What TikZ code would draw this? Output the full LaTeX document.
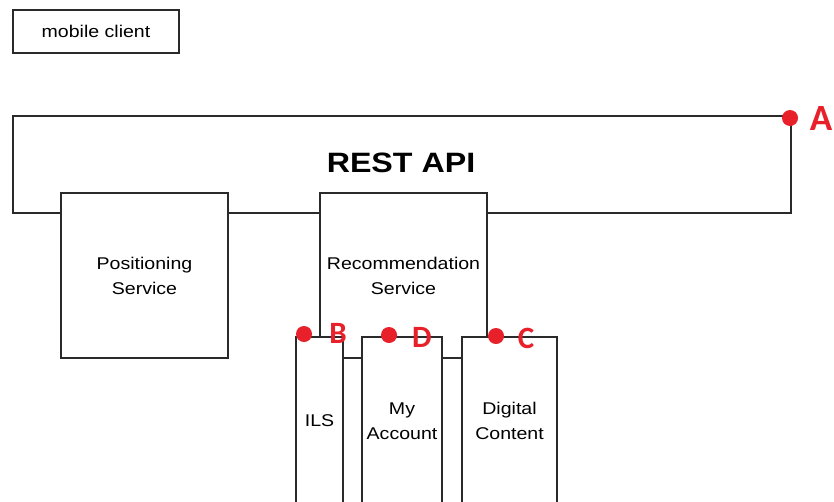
\documentclass[tikz,border=0pt]{standalone}
\usepackage{fontspec}
\setmainfont{Liberation Sans}[FakeStretch=1.15]
\newfontfamily\markfont{Carlito}
\usepackage{tikz}
\definecolor{markred}{HTML}{E8202A}
\definecolor{linegray}{HTML}{2A2A2A}

\begin{document}
\begin{tikzpicture}[x=1pt, y=-1pt,
  unit/.style={rectangle, draw=linegray, line width=1.7pt, fill=white, inner sep=0pt, outer sep=0pt, align=center, font=\fontsize{17}{25}\selectfont},
  wire/.style={linegray, line width=1.7pt},
  reddot/.style={circle, fill=markred, inner sep=0pt, minimum size=16pt},
  marklabel/.style={text=markred, inner sep=0pt, font=\markfont\bfseries\fontsize{31}{31}\selectfont}]

\useasboundingbox[fill=white] (0,0) rectangle (834,501);

%Nodes
\node[unit, minimum width=166pt, minimum height=43pt] (client) at (96,31.5) {mobile client};

\draw[wire] (13,116) rectangle (791,213);
\node[font=\bfseries\fontsize{28}{28}\selectfont] (rest) at (401,163) {REST API};

\node[unit, minimum width=167pt, minimum height=165pt] (pos) at (144.5,275.5) {Positioning\\Service};
\node[unit, draw=none, minimum width=167pt, minimum height=144pt] (rec) at (403.5,265) {};
\node[font=\fontsize{17}{25}\selectfont, align=center] (reclabel) at (403.5,276) {Recommendation\\Service};

\node[unit, minimum width=47pt, minimum height=168pt] (ils) at (319.5,421) {ILS};
\node[unit, minimum width=80pt, minimum height=168pt] (acc) at (402,421) {My\\Account};
\node[unit, minimum width=95pt, minimum height=168pt] (dig) at (509.5,421) {Digital\\Content};

%Lines
\draw[wire] (rec.south west) |- (rec.north east) -- (rec.south east);
\draw[wire] ([yshift=-21pt]ils.north east) -- ([yshift=-21pt]acc.north west);
\draw[wire] ([yshift=-21pt]acc.north east) -- ([yshift=-21pt]dig.north west);

%Marks
\node[reddot] (dotA) at (790,118) {};
\node[marklabel, font=\markfont\bfseries\fontsize{37}{37}\selectfont] (labA) at (821,118) {A};
\node[reddot] (dotB) at (304,334) {};
\node[marklabel] (labB) at (338,333) {B};
\node[reddot] (dotD) at (389,335) {};
\node[marklabel] (labD) at (422,337) {D};
\node[reddot] (dotC) at (496,336) {};
\node[marklabel] (labC) at (526,338) {C};

\end{tikzpicture}
\end{document}
